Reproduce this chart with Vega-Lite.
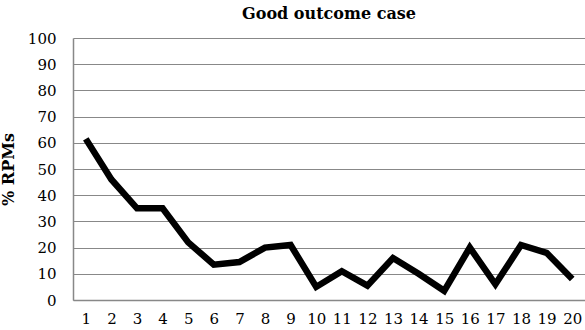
{
  "$schema": "https://vega.github.io/schema/vega-lite/v6.json",
  "width": 512,
  "height": 262,
  "autosize": {"type": "none"},
  "padding": {"left": 73, "top": 38, "right": 0, "bottom": 30},
  "background": "white",
  "title": {
    "text": "Good outcome case",
    "font": "DejaVu Serif",
    "fontSize": 16,
    "fontWeight": "bold",
    "color": "#000000",
    "offset": 9,
    "anchor": "middle"
  },
  "data": {
    "values": [
      {"x": 1, "y": 61.5},
      {"x": 2, "y": 46},
      {"x": 3, "y": 35},
      {"x": 4, "y": 35},
      {"x": 5, "y": 22},
      {"x": 6, "y": 13.5},
      {"x": 7, "y": 14.5},
      {"x": 8, "y": 20},
      {"x": 9, "y": 21},
      {"x": 10, "y": 5},
      {"x": 11, "y": 11},
      {"x": 12, "y": 5.5},
      {"x": 13, "y": 16},
      {"x": 14, "y": 10},
      {"x": 15, "y": 3.5},
      {"x": 16, "y": 20},
      {"x": 17, "y": 6},
      {"x": 18, "y": 21},
      {"x": 19, "y": 18},
      {"x": 20, "y": 8}
    ]
  },
  "mark": {"type": "line", "color": "#000000", "strokeWidth": 6.5, "strokeJoin": "miter", "strokeCap": "butt"},
  "encoding": {
    "x": {
      "field": "x",
      "type": "ordinal",
      "scale": {"type": "point", "padding": 0.5},
      "axis": {
        "title": null,
        "labelAngle": 0,
        "labelFont": "DejaVu Serif",
        "labelFontSize": 15,
        "labelColor": "#000000",
        "labelPadding": 11,
        "ticks": false,
        "domainColor": "#888888",
        "domainWidth": 1.5,
        "grid": false
      }
    },
    "y": {
      "field": "y",
      "type": "quantitative",
      "scale": {"domain": [0, 100], "nice": false},
      "axis": {
        "title": "% RPMs",
        "titleFont": "DejaVu Serif",
        "titleFontSize": 16,
        "titleFontWeight": "bold",
        "titleColor": "#000000",
        "titlePadding": 11,
        "values": [0, 10, 20, 30, 40, 50, 60, 70, 80, 90, 100],
        "labelFont": "DejaVu Serif",
        "labelFontSize": 15,
        "labelColor": "#000000",
        "labelPadding": 17,
        "ticks": false,
        "domainColor": "#888888",
        "domainWidth": 1.5,
        "grid": true,
        "gridColor": "#888888",
        "gridWidth": 1.2
      }
    }
  },
  "config": {"view": {"stroke": null}}
}
